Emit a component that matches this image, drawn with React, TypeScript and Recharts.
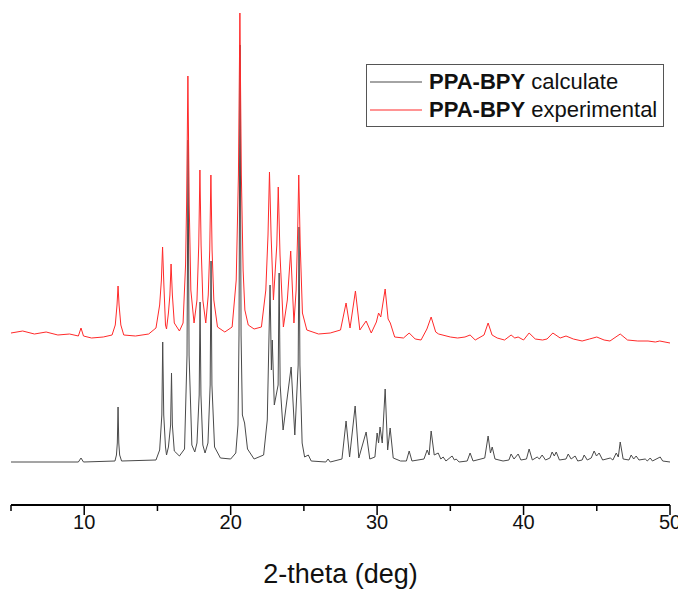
import { LineChart, Line, XAxis, YAxis, Legend, Label } from "recharts";

// 2-theta (deg) vs intensity (a.u., curves stacked as in the original plot)
const calcPattern: [number, number][] = [
  [5, 43], [9.6, 43], [9.78, 47], [9.95, 43], [12.1, 44], [12.2, 50], [12.26, 62], [12.31, 98], [12.36, 62],
  [12.42, 50], [12.55, 44], [14.9, 45], [15.15, 55], [15.3, 90], [15.36, 163], [15.43, 90], [15.55, 58],
  [15.62, 50], [15.75, 58], [15.9, 80], [15.96, 132], [16.02, 80], [16.15, 54], [16.5, 49], [16.85, 56],
  [17.02, 150], [17.09, 365], [17.16, 150], [17.35, 60], [17.55, 53], [17.7, 62], [17.85, 110], [17.91, 203],
  [17.97, 110], [18.1, 60], [18.25, 52], [18.45, 62], [18.6, 120], [18.66, 244], [18.72, 120], [18.9, 58],
  [19.3, 47], [20.0, 46], [20.35, 52], [20.5, 80], [20.57, 170], [20.64, 460], [20.71, 170], [20.8, 90],
  [20.95, 82], [21.15, 56], [21.6, 46], [22.25, 50], [22.5, 85], [22.69, 220], [22.78, 135], [22.84, 165],
  [22.98, 100], [23.24, 120], [23.31, 232], [23.38, 120], [23.58, 75], [24.13, 138], [24.38, 70],
  [24.61, 140], [24.67, 278], [24.73, 140], [24.88, 62], [25.05, 48], [25.3, 50], [25.5, 44], [26.5, 43],
  [26.65, 46], [26.8, 43], [27.6, 46], [27.88, 84], [28.12, 48], [28.5, 99], [28.75, 47], [29.25, 73],
  [29.5, 46], [29.85, 48], [30.0, 72], [30.1, 62], [30.2, 78], [30.35, 62], [30.55, 116], [30.72, 55],
  [30.89, 77], [31.1, 47], [31.6, 44], [32.0, 44], [32.19, 54], [32.38, 44], [33.2, 46], [33.42, 55],
  [33.55, 50], [33.69, 74], [33.9, 50], [34.17, 52], [34.35, 46], [34.51, 48], [34.7, 44], [35.12, 49],
  [35.28, 45], [35.4, 46], [35.6, 43], [36.15, 44], [36.35, 52], [36.55, 44], [37.35, 47], [37.58, 69],
  [37.74, 52], [37.86, 58], [38.05, 46], [38.6, 44], [39.0, 45], [39.15, 51], [39.35, 46], [39.63, 51],
  [39.82, 45], [40.2, 46], [40.38, 56], [40.6, 45], [40.93, 48], [41.08, 46], [41.27, 50], [41.5, 45],
  [41.8, 47], [41.95, 53], [42.1, 49], [42.23, 53], [42.45, 45], [42.9, 46], [43.05, 51], [43.25, 46],
  [43.52, 49], [43.7, 44], [44.0, 45], [44.14, 50], [44.35, 45], [44.62, 47], [44.82, 54], [44.98, 49],
  [45.16, 52], [45.4, 45], [45.92, 47], [46.1, 45], [46.33, 52], [46.47, 48], [46.6, 63], [46.8, 46],
  [47.2, 45], [47.35, 50], [47.52, 46], [47.69, 49], [47.88, 45], [48.31, 46], [48.45, 44], [48.65, 47],
  [48.8, 44], [49.33, 48], [49.5, 44], [50, 43],
];

const expPattern: [number, number][] = [
  [5, 172], [5.8, 174], [6.6, 171], [7.4, 173], [8.2, 170], [9.0, 171], [9.6, 169], [9.78, 177], [9.95, 169],
  [10.5, 167], [11.3, 168], [11.9, 170], [12.12, 180], [12.24, 200], [12.31, 219], [12.38, 200], [12.5, 180],
  [12.7, 170], [13.5, 169], [14.4, 171], [14.9, 177], [15.15, 200], [15.27, 225], [15.35, 258], [15.44, 220],
  [15.55, 180], [15.62, 176], [15.75, 192], [15.85, 210], [15.93, 241], [16.02, 210], [16.15, 182],
  [16.5, 174], [16.75, 182], [16.92, 240], [16.99, 300], [17.08, 429], [17.17, 300], [17.28, 215],
  [17.5, 182], [17.7, 205], [17.82, 260], [17.9, 335], [17.98, 260], [18.1, 205], [18.3, 182], [18.47, 210],
  [18.57, 255], [18.65, 330], [18.73, 255], [18.85, 205], [19.1, 178], [19.6, 173], [20.1, 178],
  [20.38, 225], [20.53, 330], [20.63, 492], [20.73, 330], [20.85, 235], [20.97, 195], [21.2, 180],
  [21.6, 176], [22.1, 178], [22.4, 215], [22.55, 270], [22.65, 333], [22.76, 270], [22.92, 205],
  [23.15, 260], [23.25, 318], [23.37, 250], [23.6, 178], [23.87, 205], [24.1, 254], [24.32, 182],
  [24.47, 215], [24.57, 270], [24.65, 330], [24.75, 260], [24.9, 192], [25.2, 175], [26.0, 171], [26.8, 172],
  [27.5, 175], [27.88, 202], [28.15, 177], [28.52, 214], [28.82, 175], [29.25, 184], [29.6, 172],
  [29.95, 183], [30.1, 192], [30.25, 188], [30.55, 216], [30.75, 186], [30.9, 182], [31.2, 168], [31.8, 167],
  [32.19, 172], [32.6, 166], [33.0, 165], [33.4, 176], [33.69, 188], [34.0, 173], [34.2, 171], [35.0, 168],
  [35.5, 167], [36.0, 168], [36.35, 170], [36.7, 165], [37.3, 170], [37.58, 182], [37.85, 170], [38.2, 167],
  [38.7, 165], [39.15, 170], [39.4, 167], [39.63, 168], [40.0, 165], [40.38, 172], [40.8, 166], [41.3, 165],
  [41.6, 166], [42.0, 172], [42.5, 167], [42.9, 169], [43.4, 166], [44.0, 164], [44.5, 166], [45.0, 168],
  [45.5, 165], [45.9, 164], [46.6, 171], [47.1, 165], [47.8, 164], [48.5, 164], [49.0, 163], [49.3, 164],
  [50, 162],
];

const thetaTicks = [5, 10, 15, 20, 25, 30, 35, 40, 45, 50];

const seriesNames = ["calculate", "experimental"];
const seriesColors = ["#4a4a4a", "#ff2a2a"];

const FONT = '"Liberation Sans", Arial, sans-serif';

const toRows = (pts: [number, number][]) => pts.map(([theta, intensity]) => ({ theta, intensity }));

function AxisTick(props: any) {
  const { x, y, payload } = props;
  const major = payload.value % 10 === 0;
  return (
    <g>
      <line x1={x} x2={x} y1={y} y2={y + (major ? 10 : 6)} stroke="#000" strokeWidth={1.5} />
      {major && (
        <text x={x} y={y + 24} textAnchor="middle" fontSize={20} fontFamily={FONT} fill="#111">
          {payload.value}
        </text>
      )}
    </g>
  );
}

function LegendBox() {
  return (
    <div
      style={{
        width: 296,
        height: 61,
        border: "1px solid #555",
        background: "#fff",
        fontFamily: FONT,
        fontSize: 22,
        color: "#111",
        position: "relative",
      }}
    >
      {seriesNames.map((name, i) => (
        <div
          key={name}
          style={{ position: "absolute", left: 3, top: 4 + i * 28, height: 26, display: "flex", alignItems: "center" }}
        >
          <svg width={52} height={4} style={{ marginRight: 7 }}>
            <line x1={0} x2={52} y1={2} y2={2} stroke={seriesColors[i]} strokeWidth={1.2} />
          </svg>
          <span style={{ whiteSpace: "nowrap" }}>
            <b>PPA-BPY</b> {name}
          </span>
        </div>
      ))}
    </div>
  );
}

export default function App() {
  return (
    <LineChart width={678} height={582} margin={{ top: 2, right: 16, bottom: 5, left: 3 }}>
      <XAxis
        type="number"
        dataKey="theta"
        domain={[5, 50]}
        ticks={thetaTicks}
        interval={0}
        allowDuplicatedCategory={false}
        height={80}
        axisLine={{ stroke: "#000", strokeWidth: 2 }}
        tickLine={false}
        tickSize={0}
        tickMargin={0}
        tick={<AxisTick />}
      >
        <Label
          content={(p: any) => (
            <text
              x={p.viewBox.x + p.viewBox.width / 2}
              y={p.viewBox.y + 78}
              textAnchor="middle"
              fontSize={27}
              fontFamily={FONT}
              fill="#111"
            >
              2-theta (deg)
            </text>
          )}
        />
      </XAxis>
      <YAxis type="number" dataKey="intensity" domain={[0, 495]} hide />
      <Legend
        layout="vertical"
        align="center"
        verticalAlign="middle"
        wrapperStyle={{ position: "absolute", left: 358, top: 56, width: 298, height: 63 }}
        content={() => <LegendBox />}
      />
      <Line
        data={toRows(calcPattern)}
        dataKey="intensity"
        name="PPA-BPY calculate"
        stroke={seriesColors[0]}
        strokeWidth={1}
        dot={false}
        activeDot={false}
        isAnimationActive={false}
      />
      <Line
        data={toRows(expPattern)}
        dataKey="intensity"
        name="PPA-BPY experimental"
        stroke={seriesColors[1]}
        strokeWidth={1}
        dot={false}
        activeDot={false}
        isAnimationActive={false}
      />
    </LineChart>
  );
}
